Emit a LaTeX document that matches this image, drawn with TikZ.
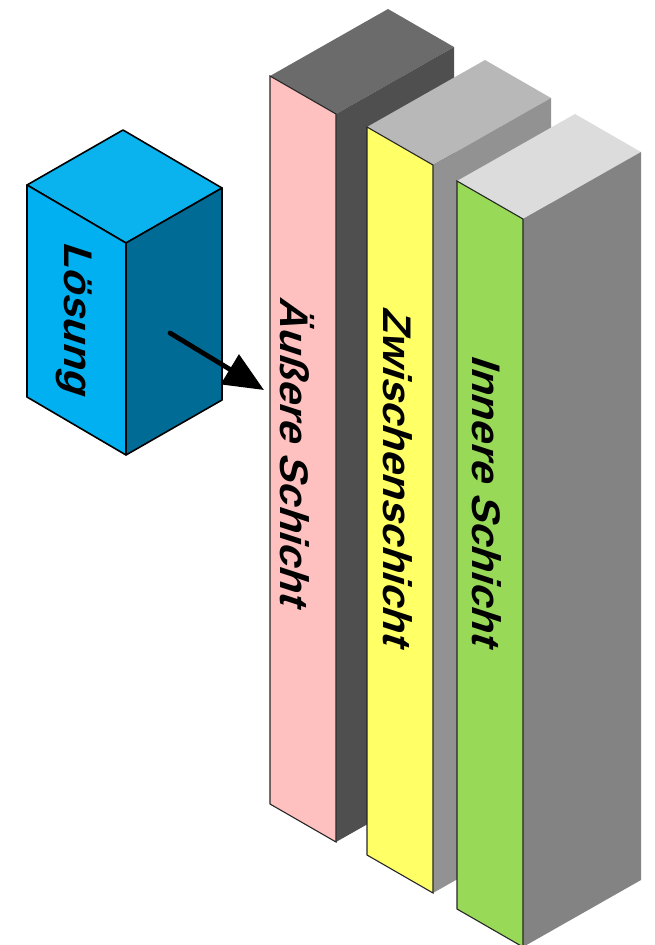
\documentclass[tikz,border=0pt]{standalone}
\usepackage{fontspec}
\setmainfont{Liberation Sans}
\usetikzlibrary{arrows.meta}

\definecolor{solfront}{HTML}{00B0F0}
\definecolor{soltop}{HTML}{0AB2EE}
\definecolor{solside}{HTML}{006C96}
\definecolor{outerfront}{HTML}{FFC0C0}
\definecolor{outerside}{HTML}{4F4F4F}
\definecolor{outertop}{HTML}{6B6B6B}
\definecolor{midfront}{HTML}{FFFF66}
\definecolor{midside}{HTML}{929292}
\definecolor{midtop}{HTML}{B8B8B8}
\definecolor{innerfront}{HTML}{98D958}
\definecolor{innerside}{HTML}{838383}
\definecolor{innertop}{HTML}{DCDCDC}

% one tall layer slab: #1,#2 upper left corner of the front face,
% #3 front colour, #4 side colour, #5 top colour
\newcommand\layerslab[5]{%
  \fill[#5] (#1,#2) -- ++(118,-67) -- ++(66,38) -- ++(-118,67) -- cycle;
  \fill[#4] (#1+66,#2+38) -- ++(118,-67) -- ++(0,728) -- ++(-118,67) -- cycle;
  \filldraw[fill=#3, slabedge] (#1,#2) -- ++(66,38) -- ++(0,728) -- ++(-66,-38) -- cycle;
}

\tikzset{
  slabedge/.style={draw=black!85, line width=1.1},
  soledge/.style={draw=black, line width=1.6, line join=round},
  facetext/.style={font=\bfseries\fontsize{42}{42}\selectfont, inner sep=0pt,
                   cm={0,-1,0.95,-0.31,(0,0)}},
  flowarrow/.style={line width=4.8, line cap=round,
                    -{Triangle[length=40pt,width=34pt]}}
}

\begin{document}
\begin{tikzpicture}[x=1pt,y=-1pt]
\useasboundingbox (0,0) rectangle (654,945);

% solution block
\filldraw[fill=soltop, soledge] (27,185) -- ++(96,-55) -- ++(99,58) -- ++(-96,55) -- cycle;
\filldraw[fill=solside, soledge] (126,243) -- ++(96,-55) -- ++(0,212) -- ++(-96,55) -- cycle;
\filldraw[fill=solfront, soledge] (27,185) -- ++(99,58) -- ++(0,212) -- ++(-99,-58) -- cycle;
\node[facetext] (loesung) at (74,320) {Lösung};

% the three layers, back to front
\layerslab{270}{76}{outerfront}{outerside}{outertop}
\layerslab{367}{127}{midfront}{midside}{midtop}
\layerslab{457}{181}{innerfront}{innerside}{innertop}

\node[facetext] (outer) at (297,456) {Äußere Schicht};
\node[facetext] (middle) at (398,480) {Zwischenschicht};
\node[facetext] (inner) at (487,504) {Innere Schicht};

% flow from the solution into the outer layer
\coordinate (arrowstart) at (170,333);
\coordinate (arrowend) at (264,390);
\draw[flowarrow] (arrowstart) -- (arrowend);
\end{tikzpicture}
\end{document}
